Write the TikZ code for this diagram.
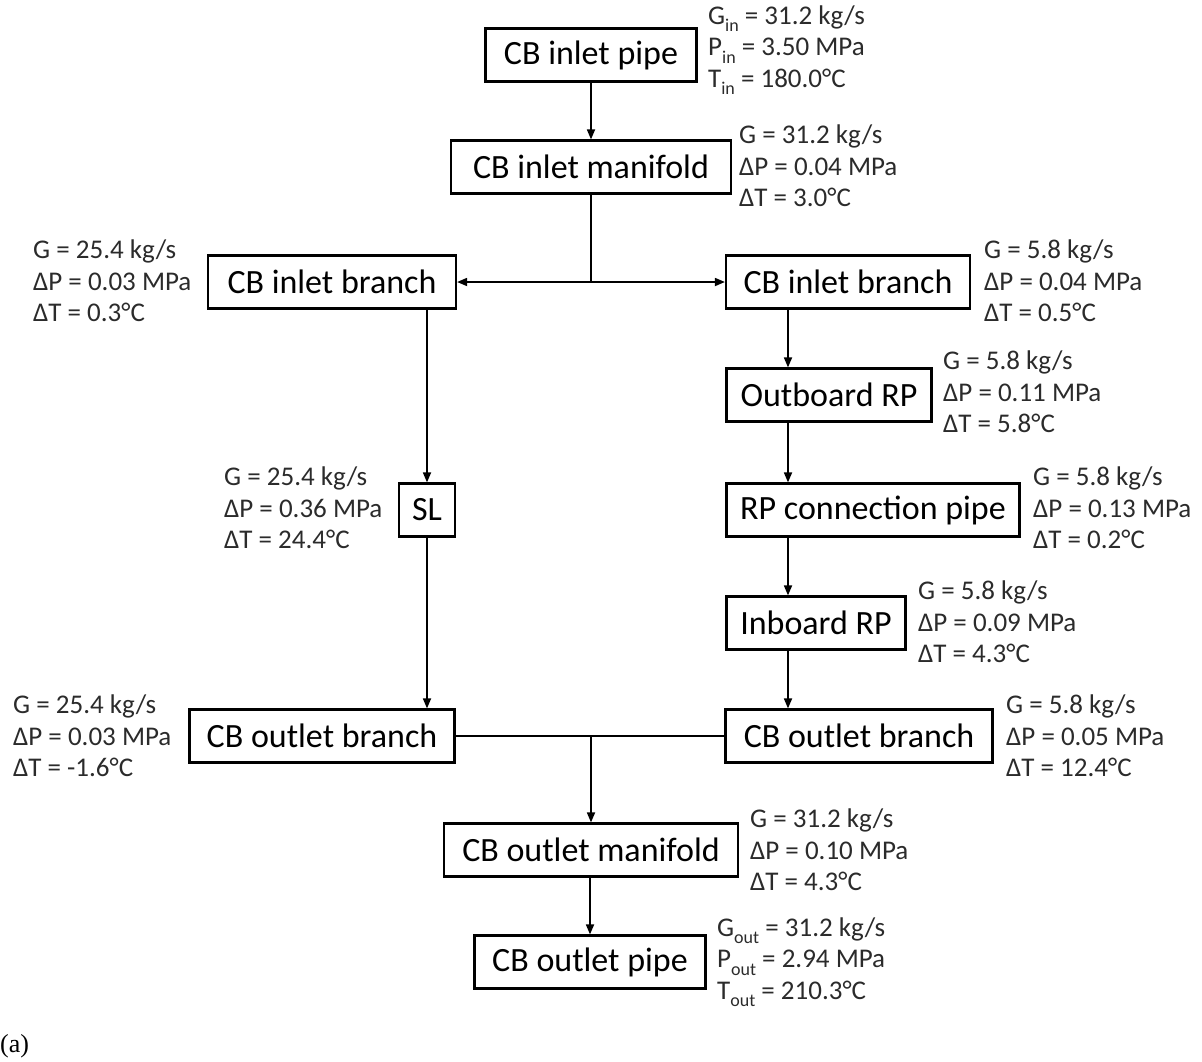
\documentclass[tikz,border=0pt]{standalone}
\usepackage{fontspec}
\setmainfont{Carlito}
\newfontfamily\serifa{Liberation Serif}
\usetikzlibrary{arrows.meta}
\definecolor{lbl}{HTML}{2B2B2B}
\newcommand{\lowsub}[1]{\raisebox{-0.28em}{\fontsize{18}{18}\selectfont #1}}
\begin{document}
\begin{tikzpicture}[x=1pt,y=-1pt,
  box/.style={draw,line width=2.2pt,minimum height=53pt,inner sep=0pt,font=\fontsize{34}{40}\selectfont},
  lab/.style={anchor=west,align=left,inner sep=0pt,text=lbl,font=\fontsize{27}{31.5}\selectfont},
  conn/.style={line width=1.7pt},
  arr/.style={conn,-{Triangle[length=10pt,width=8pt]}}]
\useasboundingbox (0,0) rectangle (1202,1061);
% boxes
\node[box,minimum width=211pt] (ip)  at (591,55)  {CB inlet pipe};
\node[box,minimum width=280pt] (im)  at (591,167) {CB inlet manifold};
\node[box,minimum width=248pt] (lib) at (332,282) {CB inlet branch};
\node[box,minimum width=244pt] (rib) at (848,282) {CB inlet branch};
\node[box,minimum width=205pt] (orp) at (829,395) {Outboard RP};
\node[box,minimum width=56pt]  (sl)  at (427,510) {SL};
\node[box,minimum width=293pt] (rcp) at (873,510) {RP connection pipe};
\node[box,minimum width=179pt] (irp) at (816,623) {Inboard RP};
\node[box,minimum width=265pt] (lob) at (322,736) {CB outlet branch};
\node[box,minimum width=267pt] (rob) at (859,736) {CB outlet branch};
\node[box,minimum width=294pt] (om)  at (591,850) {CB outlet manifold};
\node[box,minimum width=231pt] (op)  at (590,962) {CB outlet pipe};
% helper coordinates
\coordinate (j1) at (591,282);
\coordinate (j2) at (591,736);
\coordinate (xr) at (788,0);
% connectors
\draw[arr] (ip.south -| im.north) -- (im.north);
\draw[conn] (im.south) -- (j1);
\draw[arr] (j1) -- (lib.east);
\draw[arr] (j1) -- (rib.west);
\draw[arr] (sl.north |- lib.south) -- (sl.north);
\draw[arr] (sl.south) -- (sl.south |- lob.north);
\draw[arr] (rib.south -| xr) -- (orp.north -| xr);
\draw[arr] (orp.south -| xr) -- (rcp.north -| xr);
\draw[arr] (rcp.south -| xr) -- (irp.north -| xr);
\draw[arr] (irp.south -| xr) -- (rob.north -| xr);
\draw[conn] (lob.east) -- (rob.west);
\draw[arr] (j2) -- (om.north);
\draw[arr] (om.south -| op.north) -- (op.north);
% labels
\node[lab] (l1) at (708,50) {G\lowsub{in} = 31.2 kg/s\\P\lowsub{in} = 3.50 MPa\\T\lowsub{in} = 180.0°C};
\node[lab] (l2) at (739,166) {G = 31.2 kg/s\\ΔP = 0.04 MPa\\ΔT = 3.0°C};
\node[lab] (l3) at (33,281) {G = 25.4 kg/s\\ΔP = 0.03 MPa\\ΔT = 0.3°C};
\node[lab] (l4) at (984,281) {G = 5.8 kg/s\\ΔP = 0.04 MPa\\ΔT = 0.5°C};
\node[lab] (l5) at (943,392) {G = 5.8 kg/s\\ΔP = 0.11 MPa\\ΔT = 5.8°C};
\node[lab] (l6) at (224,508) {G = 25.4 kg/s\\ΔP = 0.36 MPa\\ΔT = 24.4°C};
\node[lab] (l7) at (1033,508) {G = 5.8 kg/s\\ΔP = 0.13 MPa\\ΔT = 0.2°C};
\node[lab] (l8) at (918,622) {G = 5.8 kg/s\\ΔP = 0.09 MPa\\ΔT = 4.3°C};
\node[lab] (l9) at (13,736) {G = 25.4 kg/s\\ΔP = 0.03 MPa\\ΔT = -1.6°C};
\node[lab] (l10) at (1006,736) {G = 5.8 kg/s\\ΔP = 0.05 MPa\\ΔT = 12.4°C};
\node[lab] (l11) at (750,850) {G = 31.2 kg/s\\ΔP = 0.10 MPa\\ΔT = 4.3°C};
\node[lab] (l12) at (717,962) {G\lowsub{out} = 31.2 kg/s\\P\lowsub{out} = 2.94 MPa\\T\lowsub{out} = 210.3°C};
\node[anchor=west,inner sep=0pt,font=\serifa\fontsize{26}{30}\selectfont] (cap) at (0,1046) {(a)};
\end{tikzpicture}
\end{document}
